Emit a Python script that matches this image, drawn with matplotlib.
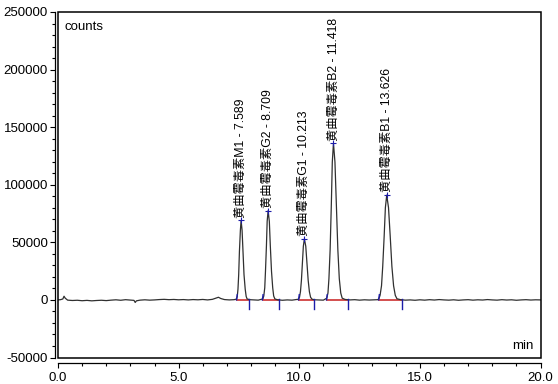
"""Chromatogram of aflatoxin standards (counts vs. retention time)."""

import matplotlib

matplotlib.use("Agg")
import matplotlib.pyplot as plt
from matplotlib.patches import Rectangle
from matplotlib.ticker import MultipleLocator, FormatStrFormatter

plt.rcParams["font.family"] = ["Liberation Sans", "Noto Sans CJK SC"]

# --- trace (min, counts) ---
time_min = [
    0.0, 0.1, 0.2, 0.25, 0.3, 0.4, 0.6, 0.8, 1.0, 1.2, 1.4, 1.6, 1.8, 2.0, 2.2, 2.4,
    2.6, 2.8, 3.0, 3.15, 3.2, 3.25, 3.4, 3.6, 3.8, 4.0, 4.2, 4.4, 4.6, 4.8, 5.0, 5.2,
    5.4, 5.6, 5.8, 6.0, 6.2, 6.4, 6.55, 6.65, 6.75, 6.9, 7.1, 7.3,
    # M1
    7.40, 7.43, 7.46, 7.49, 7.52, 7.56, 7.589, 7.63, 7.67, 7.71, 7.76, 7.80, 7.84, 7.95,
    8.1, 8.3,
    # G2
    8.49, 8.53, 8.57, 8.60, 8.64, 8.67, 8.709, 8.76, 8.80, 8.85, 8.90, 8.94, 8.99, 9.1,
    9.3, 9.5, 9.7, 9.85,
    # G1
    9.97, 10.01, 10.05, 10.09, 10.13, 10.17, 10.213, 10.27, 10.32, 10.37, 10.42, 10.47,
    10.53, 10.65, 10.8, 11.0,
    # B2
    11.14, 11.19, 11.23, 11.28, 11.33, 11.37, 11.418, 11.48, 11.54, 11.60, 11.66, 11.72,
    11.78, 11.9, 12.1, 12.3, 12.5, 12.7, 12.9, 13.1, 13.25,
    # B1
    13.30, 13.35, 13.41, 13.46, 13.52, 13.57, 13.626, 13.70, 13.77, 13.84, 13.91, 13.98,
    14.05, 14.2, 14.4, 14.6, 14.8, 15.0, 15.2, 15.4, 15.6, 15.8, 16.0, 16.2, 16.4, 16.6,
    16.8, 17.0, 17.2, 17.4, 17.6, 17.8, 18.0, 18.2, 18.4, 18.6, 18.8, 19.0, 19.2, 19.4,
    19.6, 19.8, 20.0,
]
counts = [
    0, 200, 800, 3200, 1500, -200, -500, -300, -700, -400, -800, -500, -300, -600, -200, 100,
    -300, 200, -100, -400, -2200, -800, -200, 100, -200, 0, 300, 500, 200, 400, 100, 300,
    0, 300, 100, 400, 0, 500, 1600, 2300, 1200, 300, 0, 200,
    # M1
    800, 3000, 9300, 22000, 42000, 60500, 69000, 60500, 42000, 22000, 9300, 3000, 800, 200,
    0, -200,
    # G2
    850, 3400, 10500, 24800, 47300, 68200, 77500, 68200, 47300, 24800, 10500, 3400, 850, 100,
    -300, 0, -200, 200,
    # G1
    600, 2300, 7200, 17000, 32300, 46600, 53000, 46600, 32300, 17000, 7200, 2300,
    600, 100, 0, -200,
    # B2
    1500, 6000, 18400, 43500, 83000, 119700, 136000, 119700, 83000, 43500, 18400, 6000,
    1500, 400, 0, 200, -200, 100, -100, 100, 200,
    # B1
    1000, 4000, 12300, 29100, 55500, 80100, 91000, 80100, 55500, 29100, 12300, 4000,
    1000, 200, -200, 0, -300, 100, -200, 200, -100, 300, 0, -200, 100, -300,
    0, 200, -200, 100, -100, 300, 0, -200, 200, -100, 100, -300, 0, 200,
    -100, 100, 0,
]

# --- integrated peaks ---
peak_names = ["黄曲霉毒素M1", "黄曲霉毒素G2", "黄曲霉毒素G1", "黄曲霉毒素B2", "黄曲霉毒素B1"]
peak_rt = [7.589, 8.709, 10.213, 11.418, 13.626]
peak_height = [69000, 77500, 53000, 136000, 91000]
peak_start = [7.43, 8.50, 10.00, 11.16, 13.32]
peak_end = [7.93, 9.17, 10.62, 12.03, 14.27]

W, H = 558, 384
fig = plt.figure(figsize=(W / 100, H / 100), dpi=100)
ax = fig.add_axes([58 / W, (H - 357.5) / H, 482.5 / W, 345.5 / H])

ax.plot(time_min, counts, color="#303030", linewidth=0.9, zorder=3)

for name, rt, h, t0, t1 in zip(peak_names, peak_rt, peak_height, peak_start, peak_end):
    ax.plot([t0, t1], [0, 0], color="#c81e1e", linewidth=1.1, zorder=2)
    ax.plot([t0 - 0.03, t0], [0, 4500], color="#1c1ca8", linewidth=1.0, zorder=4)
    ax.plot([t1, t1], [500, -8000], color="#1c1ca8", linewidth=1.0, zorder=4)
    ax.plot(rt, h, marker="+", color="#1c1ca8", markersize=4, mew=0.8, zorder=4)
    ax.annotate(
        f"{name} - {rt:.3f}", xy=(rt, h), xytext=(0, 2), textcoords="offset points",
        rotation=90, ha="center", va="bottom", fontsize=8.8, color="black",
    )

ax.set_xlim(0, 20)
ax.set_ylim(-50000, 250000)

ax.xaxis.set_major_locator(MultipleLocator(5))
ax.xaxis.set_minor_locator(MultipleLocator(1))
ax.xaxis.set_major_formatter(FormatStrFormatter("%.1f"))
ax.yaxis.set_major_locator(MultipleLocator(50000))
ax.yaxis.set_minor_locator(MultipleLocator(10000))
ax.yaxis.set_major_formatter(FormatStrFormatter("%d"))

for side in ("top", "right"):
    ax.spines[side].set_visible(False)
ax.spines["left"].set_position(("outward", 2.2))
ax.spines["bottom"].set_position(("outward", 3.6))
ax.spines["left"].set_linewidth(0.9)
ax.spines["bottom"].set_linewidth(0.9)
ax.add_patch(Rectangle((0, 0), 1, 1, transform=ax.transAxes, fill=False,
                       edgecolor="black", linewidth=1.1, clip_on=False, zorder=5))

ax.tick_params(which="major", direction="out", length=3.5, width=0.8, labelsize=9.5, pad=1.5)
ax.tick_params(which="minor", direction="out", length=2, width=0.8)
ax.tick_params(axis="x", pad=3)

ax.text(0.013, 0.975, "counts", transform=ax.transAxes, ha="left", va="top", fontsize=9.5)
ax.text(0.985, 0.015, "min", transform=ax.transAxes, ha="right", va="bottom", fontsize=9.5)

fig.savefig("out.png", dpi=100, facecolor="white")
